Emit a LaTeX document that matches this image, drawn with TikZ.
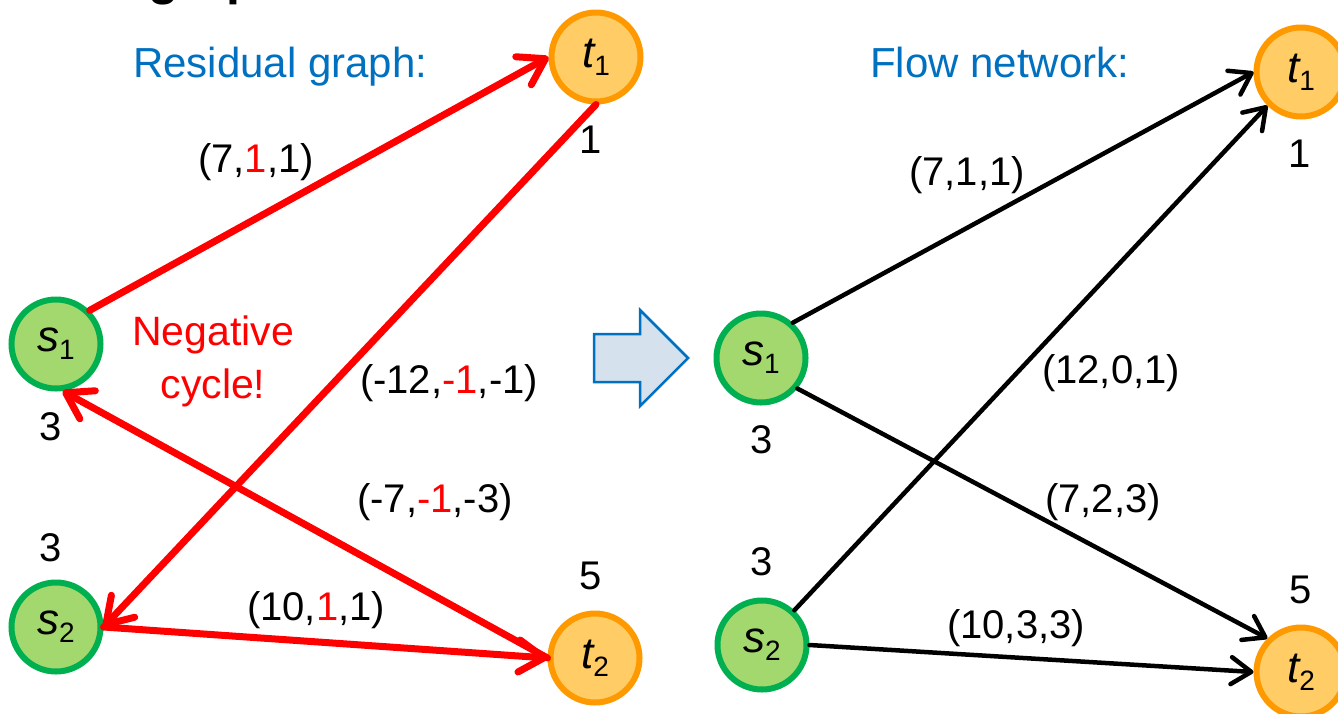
\documentclass[tikz,border=0pt]{standalone}
\usepackage{fontspec}
\setmainfont{Liberation Sans}
\usetikzlibrary{arrows.meta}
\definecolor{nodegreen}{HTML}{A2D86E}
\definecolor{ringgreen}{HTML}{00B050}
\definecolor{nodeorange}{HTML}{FFCC66}
\definecolor{ringorange}{HTML}{FF9900}
\definecolor{titleblue}{HTML}{0070C0}
\definecolor{arrowfill}{HTML}{D5E1EC}
\definecolor{arcred}{HTML}{FF0000}
\newcommand{\nlab}[2]{{\fontsize{44}{44}\selectfont\itshape #1}\raisebox{-8pt}{\fontsize{28}{28}\selectfont #2}}
\begin{document}
\begin{tikzpicture}[x=1pt,y=-1pt,
  snode/.style={circle, draw=ringgreen, fill=nodegreen, line width=6pt, minimum size=89pt, inner sep=0pt},
  tnode/.style={circle, draw=ringorange, fill=nodeorange, line width=6pt, minimum size=89pt, inner sep=0pt},
  lbl/.style={anchor=base, inner sep=0pt, font=\fontsize{40}{40}\selectfont},
  ttl/.style={anchor=base west, inner sep=0pt, text=titleblue, font=\fontsize{42}{42}\selectfont},
  redarc/.style={draw=arcred, line width=7pt, line cap=round, -{Straight Barb[length=25pt,width=32pt,round]}},
  blackarc/.style={draw=black, line width=4.5pt, line cap=round, -{Straight Barb[length=20pt,width=27pt,round]}},
]
\useasboundingbox (0,0) rectangle (1338,713);
\fill[white] (0,0) rectangle (1338,713);
\begin{scope}
\clip (0,0) rectangle (1338,713);
\node[anchor=base west, inner sep=0pt, font=\fontsize{50}{50}\selectfont\bfseries] (toptitle) at (148,-6) {graph};
\end{scope}

% titles
\node[ttl] (rtitle) at (133,77) {Residual graph:};
\node[ttl] (ftitle) at (870,77) {Flow network:};

% left graph
\node[snode] (ls1) at (56,344) {\nlab{s}{1}};
\node[snode] (ls2) at (56,627) {\nlab{s}{2}};
\node[tnode] (lt1) at (596,57) {\nlab{t}{1}};
\node[tnode] (lt2) at (595,658) {\nlab{t}{2}};

\draw[redarc] (ls1.north east) -- (lt1.west);
\draw[redarc] (lt1.south) -- (ls2.east);
\draw[redarc] (ls2.east) -- (lt2.west);
\draw[redarc] (lt2.west) -- (ls1.-82);

\node[lbl] (l1) at (256,172) {(7,\textcolor{arcred}{1},1)};
\node[lbl] (l2) at (449,393) {(-12,\textcolor{arcred}{-1},-1)};
\node[lbl] (l3) at (435,512) {(-7,\textcolor{arcred}{-1},-3)};
\node[lbl] (l4) at (316,620) {(10,\textcolor{arcred}{1},1)};

\node[lbl] (ln1) at (51,440) {3};
\node[lbl] (ln2) at (51,561) {3};
\node[lbl] (ln3) at (591,153) {1};
\node[lbl] (ln4) at (591,589) {5};

\node[anchor=base, inner sep=0pt, align=center, text=arcred, font=\fontsize{41}{53}\selectfont] (neg) at (213,398) {Negative\\cycle!};

% block arrow
\draw[draw=titleblue, fill=arrowfill, line width=2.5pt, line join=miter]
  (594,334) -- (640,334) -- (640,310) -- (688,358) -- (640,406) -- (640,382) -- (594,382) -- cycle;

% right graph
\node[snode] (rs1) at (761,358) {\nlab{s}{1}};
\node[snode] (rs2) at (762,645) {\nlab{s}{2}};
\node[tnode] (rt1) at (1301,72) {\nlab{t}{1}};
\node[tnode] (rt2) at (1301,672) {\nlab{t}{2}};

\draw[blackarc] (rs1.48) -- (rt1.west);
\draw[blackarc] (rs2.47) -- (rt1.225);
\draw[blackarc] (rs1.-40) -- (rt2.135);
\draw[blackarc] (rs2.east) -- (rt2.west);

\node[lbl] (r1) at (967,185) {(7,1,1)};
\node[lbl] (r2) at (1111,383) {(12,0,1)};
\node[lbl] (r3) at (1103,512) {(7,2,3)};
\node[lbl] (r4) at (1016,638) {(10,3,3)};

\node[lbl] (rn1) at (762,453) {3};
\node[lbl] (rn2) at (762,575) {3};
\node[lbl] (rn3) at (1300,167) {1};
\node[lbl] (rn4) at (1301,603) {5};
\end{tikzpicture}
\end{document}
